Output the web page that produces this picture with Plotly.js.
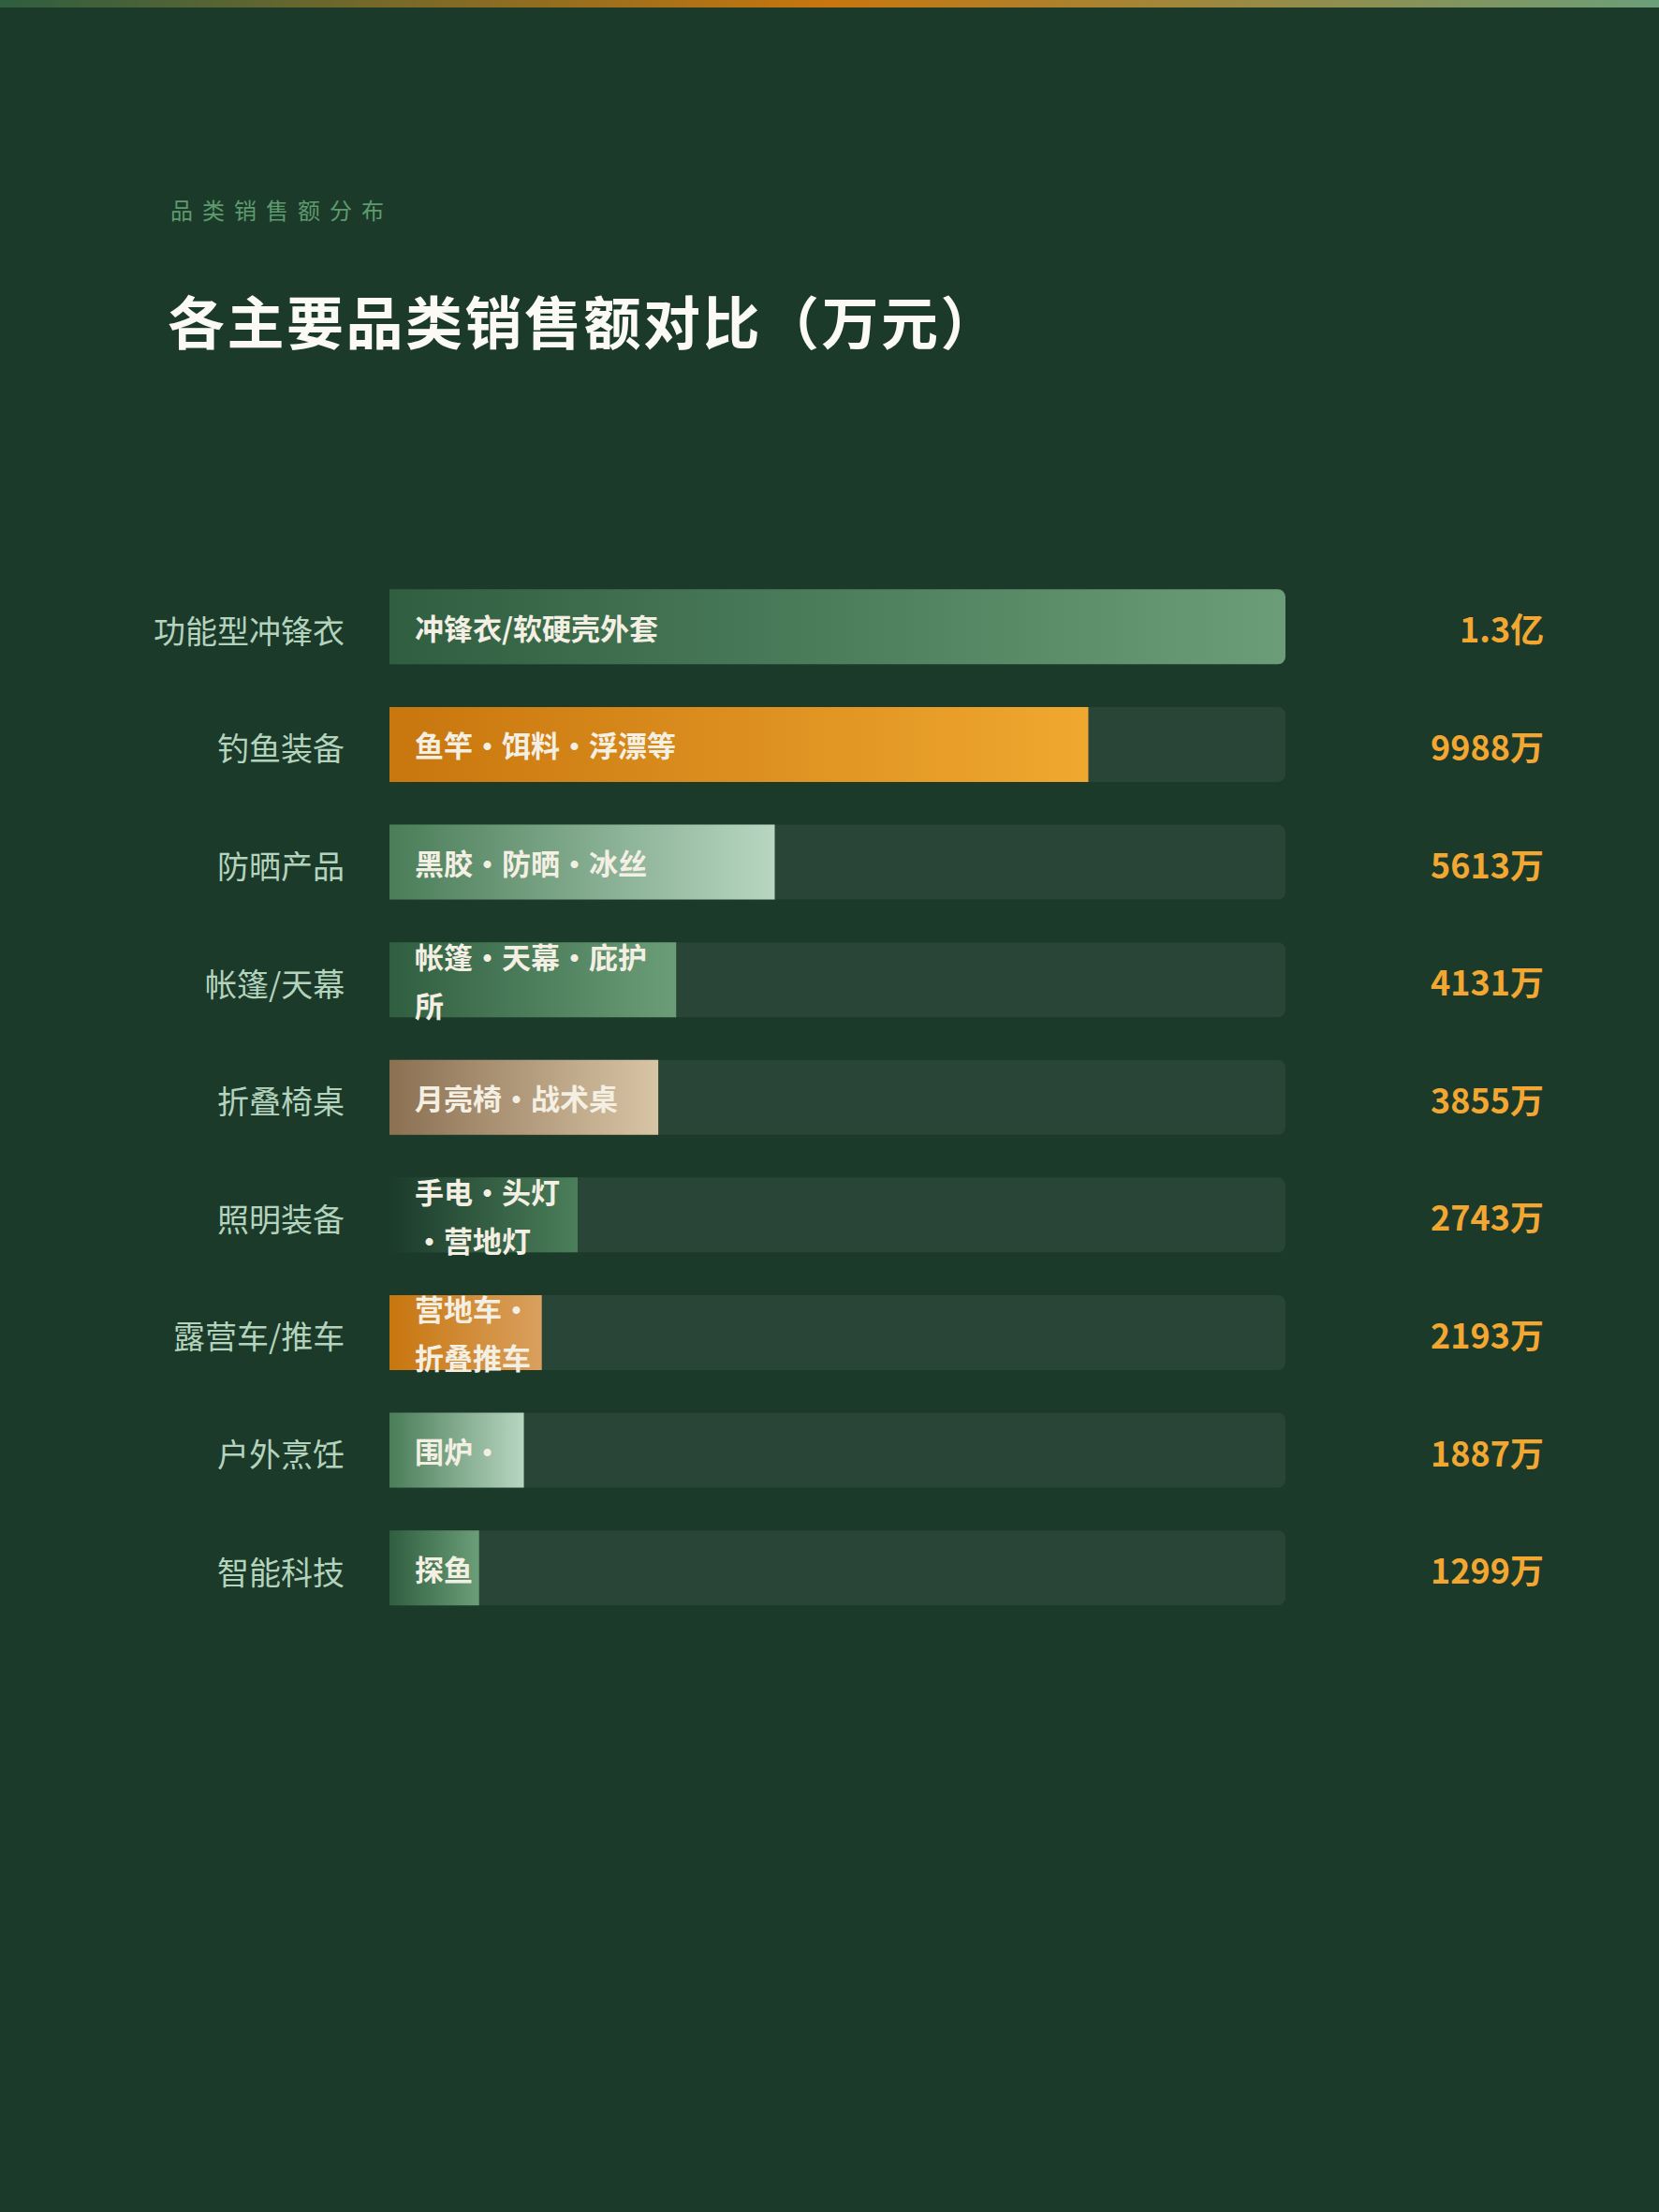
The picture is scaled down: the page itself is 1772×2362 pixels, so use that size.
<!DOCTYPE html>
<html>
<head>
<meta charset="utf-8">
<script src="https://cdn.plot.ly/plotly-3.0.1.min.js"></script>
<style>
  html, body { margin: 0; padding: 0; background: #1b3a2a; }
  #wrap { position: relative; width: 1772px; height: 2362px; overflow: hidden; }
  #topstrip { position: absolute; left: 0; top: 0; width: 1772px; height: 8px; z-index: 5;
    background: linear-gradient(90deg, #2f5e40 0%, #c8760e 50%, #6b9e78 100%); }
  #chart { position: absolute; left: 0; top: 0; width: 1772px; height: 2362px; }
</style>
</head>
<body>
<div id="wrap">
  <div id="topstrip"></div>
  <div id="chart"></div>
</div>
<script>
// ---- data ----
const categories = ['功能型冲锋衣', '钓鱼装备', '防晒产品', '帐篷/天幕', '折叠椅桌', '照明装备', '露营车/推车', '户外烹饪', '智能科技'];
const salesWan = [13000, 9988, 5613, 4131, 3855, 2743, 2193, 1887, 1299];
const valueLabels = ['1.3亿', '9988万', '5613万', '4131万', '3855万', '2743万', '2193万', '1887万', '1299万'];
// bar length as share of the full track (%), as drawn in the picture
const barSharePct = [100, 78, 43, 32, 30, 21, 17, 15, 10];
const barDescriptions = [
  ['冲锋衣/软硬壳外套'],
  ['鱼竿・饵料・浮漂等'],
  ['黑胶・防晒・冰丝'],
  ['帐篷・天幕・庇护', '所'],
  ['月亮椅・战术桌'],
  ['手电・头灯', '・营地灯'],
  ['营地车・', '折叠推车'],
  ['围炉・'],
  ['探鱼']
];
const axisMax = 100;
const subtitleText = '品类销售额分布';
const titleText = '各主要品类销售额对比（万元）';

// ---- styles ----
const BG = '#1b3a2a';
const TRACK = '#284537';
const gradients = [
  ['#2f5e40', '#6b9e78'],
  ['#c8760e', '#f0a830'],
  ['#4a7d58', '#b8d6c1'],
  ['#2f5e40', '#6b9e78'],
  ['#8b7052', '#d8c5a5'],
  ['#1b3a2a', '#4b7f5a'],
  ['#c8760e', '#d9a05f'],
  ['#4a7d58', '#b8d6c1'],
  ['#2f5e40', '#6b9e78']
];
const FONT = '"Noto Sans CJK SC", "Noto Sans", sans-serif';

const W = 1772, H = 2362;
const xDomain = [416 / W, 1373 / W];
const yTop = 606.5, yBottom = 1737;
const yDomain = [1 - yBottom / H, 1 - yTop / H];

const trackTrace = {
  type: 'bar', orientation: 'h',
  y: categories, x: categories.map(() => axisMax),
  marker: { color: TRACK, cornerradius: 8, line: { width: 0 } },
  hoverinfo: 'skip', showlegend: false
};
const valueTrace = {
  type: 'bar', orientation: 'h',
  y: categories, x: barSharePct,
  customdata: salesWan,
  marker: { color: gradients.map(g => g[1]), cornerradius: 8, line: { width: 0 } },
  hoverinfo: 'skip', showlegend: false
};

const annotations = [];
// subtitle
annotations.push({
  xref: 'paper', yref: 'paper', x: 215 / W, y: 1 - 224 / H,
  xanchor: 'left', yanchor: 'middle', showarrow: false,
  text: subtitleText,
  font: { family: FONT, size: 24, color: '#5f9a6e' }
});
categories.forEach((c, i) => {
  // category label
  annotations.push({
    xref: 'x', yref: 'y', x: 0, y: c, xshift: -46, yshift: -3,
    xanchor: 'right', yanchor: 'middle', showarrow: false,
    text: c,
    font: { family: FONT, size: 34, color: '#b3d3bd' }
  });
  // value label
  annotations.push({
    xref: 'paper', yref: 'y', x: 1651 / W, y: c, yshift: -1,
    xanchor: 'right', yanchor: 'middle', showarrow: false,
    text: valueLabels[i],
    font: { family: FONT, size: 36, weight: 700, color: '#f2a732' }
  });
  const lines = barDescriptions[i];
  const n = lines.length;
  lines.forEach((ln, j) => {
    const off = (j - (n - 1) / 2) * 52;
    annotations.push({
      xref: 'x', yref: 'y', x: 0, y: c, xshift: 25, yshift: -off,
      xanchor: 'left', yanchor: 'middle', showarrow: false,
      text: ln,
      font: { family: FONT, size: 31, weight: 700, color: '#f4efe3' }
    });
  });
});

const layout = {
  width: W, height: H,
  paper_bgcolor: BG, plot_bgcolor: BG,
  margin: { l: 0, r: 0, t: 0, b: 0, autoexpand: false },
  barmode: 'overlay', bargap: 0.363,
  title: {
    text: titleText, xref: 'paper', yref: 'paper', x: 179 / W, y: 1 - 347 / H,
    xanchor: 'left', yanchor: 'middle',
    font: { family: FONT, size: 61, weight: 700, color: '#fbfaf5' }
  },
  xaxis: { domain: xDomain, range: [0, axisMax], visible: false, fixedrange: true },
  yaxis: {
    domain: yDomain, type: 'category', range: [categories.length - 0.5, -0.5],
    showgrid: false, zeroline: false, showline: false, ticks: '',
    showticklabels: false, automargin: false, fixedrange: true
  },
  annotations: annotations,
  showlegend: false
};

const gd = document.getElementById('chart');
Plotly.newPlot(gd, [trackTrace, valueTrace], layout, { staticPlot: true, displayModeBar: false }).then(() => {
  const traces = gd.querySelectorAll('.barlayer .trace');
  const vt = traces[traces.length - 1];
  const paths = vt.querySelectorAll('.point path');
  if (paths.length) {
    const svg = paths[0].ownerSVGElement;
    let defs = svg.querySelector('defs');
    if (!defs) { defs = document.createElementNS('http://www.w3.org/2000/svg', 'defs'); svg.insertBefore(defs, svg.firstChild); }
    paths.forEach((p, i) => {
      const g = document.createElementNS('http://www.w3.org/2000/svg', 'linearGradient');
      g.setAttribute('id', 'barGrad' + i);
      g.setAttribute('x1', '0'); g.setAttribute('y1', '0');
      g.setAttribute('x2', '1'); g.setAttribute('y2', '0');
      [[0, gradients[i][0]], [1, gradients[i][1]]].forEach(([o, c]) => {
        const s = document.createElementNS('http://www.w3.org/2000/svg', 'stop');
        s.setAttribute('offset', o); s.setAttribute('stop-color', c);
        g.appendChild(s);
      });
      defs.appendChild(g);
      p.style.fill = 'url(#barGrad' + i + ')';
    });
  }
  gd.querySelectorAll('.annotation-text').forEach(t => {
    if (t.textContent === subtitleText) t.style.letterSpacing = '10px';
  });
  const tt = gd.querySelector('.gtitle');
  if (tt) tt.style.letterSpacing = '2.5px';
});
</script>
</body>
</html>
